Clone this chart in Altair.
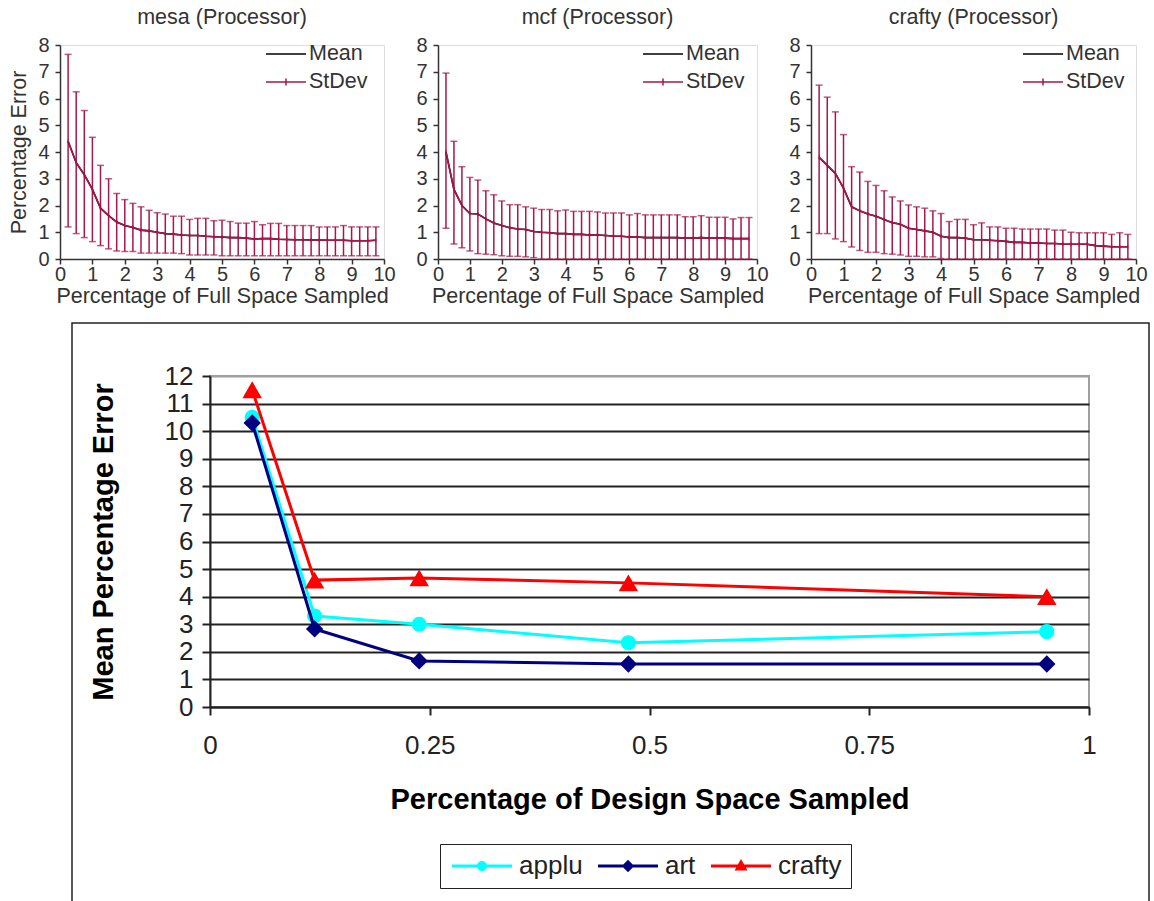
import altair as alt
import pandas as pd

FONT = "Liberation Sans"
CRIMSON = "#A8174A"
DARK = "#333333"

# ---------------- top panels ----------------
X_TOP = [0.25, 0.5, 0.75, 1.0, 1.25, 1.5, 1.75, 2.0, 2.25, 2.5, 2.75, 3.0, 3.25,
         3.5, 3.75, 4.0, 4.25, 4.5, 4.75, 5.0, 5.25, 5.5, 5.75, 6.0, 6.25, 6.5,
         6.75, 7.0, 7.25, 7.5, 7.75, 8.0, 8.25, 8.5, 8.75, 9.0, 9.25, 9.5, 9.75]

MESA_MEAN = [4.4, 3.6, 3.15, 2.6, 1.9, 1.62, 1.38, 1.25, 1.18, 1.08, 1.05, 1.0, 0.95,
             0.93, 0.9, 0.88, 0.88, 0.85, 0.83, 0.82, 0.8, 0.8, 0.78, 0.75, 0.76, 0.76,
             0.74, 0.73, 0.72, 0.72, 0.71, 0.71, 0.7, 0.7, 0.7, 0.68, 0.68, 0.68, 0.7]
MESA_LOW = [1.2, 0.95, 0.8, 0.65, 0.5, 0.38, 0.3, 0.28, 0.28, 0.22, 0.22, 0.22, 0.22,
            0.22, 0.2, 0.15, 0.15, 0.15, 0.15, 0.12, 0.12, 0.12, 0.12, 0.12, 0.12, 0.12,
            0.12, 0.12, 0.12, 0.12, 0.12, 0.12, 0.12, 0.12, 0.12, 0.12, 0.12, 0.12, 0.12]
MESA_HIGH = [7.65, 6.25, 5.55, 4.55, 3.5, 3.0, 2.45, 2.22, 2.08, 1.95, 1.82, 1.73, 1.68,
             1.6, 1.6, 1.48, 1.52, 1.52, 1.43, 1.45, 1.4, 1.34, 1.34, 1.4, 1.28, 1.33,
             1.33, 1.25, 1.25, 1.25, 1.25, 1.2, 1.2, 1.2, 1.25, 1.2, 1.2, 1.2, 1.2]

MCF_MEAN = [4.0, 2.6, 2.0, 1.7, 1.68, 1.5, 1.35, 1.25, 1.17, 1.12, 1.1, 1.03, 1.0,
            0.98, 0.95, 0.95, 0.92, 0.92, 0.9, 0.9, 0.88, 0.86, 0.85, 0.82, 0.82, 0.8,
            0.8, 0.8, 0.8, 0.8, 0.78, 0.78, 0.8, 0.78, 0.78, 0.78, 0.76, 0.76, 0.76]
MCF_LOW = [1.15, 0.56, 0.42, 0.3, 0.2, 0.18, 0.16, 0.12, 0.1, 0.1, 0.08, 0.05, 0.0,
           0.0, 0.0, 0.0, 0.0, 0.0, 0.0, 0.0, 0.0, 0.0, 0.0, 0.0, 0.0, 0.0,
           0.0, 0.0, 0.0, 0.0, 0.0, 0.0, 0.0, 0.0, 0.0, 0.0, 0.0, 0.0, 0.0]
MCF_HIGH = [6.95, 4.4, 3.45, 3.05, 2.95, 2.55, 2.4, 2.17, 2.03, 2.03, 1.95, 1.9, 1.85,
            1.85, 1.8, 1.83, 1.78, 1.78, 1.78, 1.76, 1.72, 1.72, 1.72, 1.65, 1.7, 1.65,
            1.65, 1.65, 1.65, 1.65, 1.58, 1.58, 1.62, 1.56, 1.56, 1.56, 1.5, 1.55, 1.55]

CRAFTY_MEAN = [3.8, 3.5, 3.2, 2.65, 1.95, 1.8, 1.68, 1.6, 1.48, 1.36, 1.3, 1.15, 1.1,
               1.05, 1.0, 0.85, 0.8, 0.8, 0.78, 0.72, 0.72, 0.7, 0.68, 0.66, 0.62, 0.62,
               0.6, 0.6, 0.58, 0.58, 0.56, 0.55, 0.55, 0.55, 0.5, 0.48, 0.46, 0.46, 0.46]
CRAFTY_LOW = [0.95, 0.95, 0.75, 0.65, 0.45, 0.32, 0.25, 0.25, 0.2, 0.18, 0.15, 0.1, 0.1,
              0.08, 0.08, 0.02, 0.0, 0.0, 0.0, 0.0, 0.0, 0.0, 0.0, 0.0, 0.0, 0.0,
              0.0, 0.0, 0.0, 0.0, 0.0, 0.0, 0.0, 0.0, 0.0, 0.0, 0.0, 0.0, 0.0]
CRAFTY_HIGH = [6.5, 6.05, 5.5, 4.65, 3.45, 3.25, 2.9, 2.75, 2.55, 2.32, 2.17, 2.02, 1.95,
               1.9, 1.8, 1.7, 1.4, 1.48, 1.48, 1.28, 1.35, 1.2, 1.2, 1.15, 1.15, 1.12,
               1.12, 1.12, 1.12, 1.08, 1.08, 1.0, 0.98, 0.98, 0.98, 0.98, 0.92, 0.98, 0.92]

PANEL_TITLES = ["mesa (Processor)", "mcf (Processor)", "crafty (Processor)"]
TOP_LEGEND = ["Mean", "StDev"]
TOP_LEGEND_COLORS = ["#000000", CRIMSON]
TOP_LEGEND_PATHS = ["M-1,0 L3,0", "M-1,0 L3,0 M1,-0.35 L1,0.35"]
X_TICKS_TOP = [0, 1, 2, 3, 4, 5, 6, 7, 8, 9, 10]
Y_TICKS_TOP = [0, 1, 2, 3, 4, 5, 6, 7, 8]

# ---------------- bottom chart ----------------
X_BOTTOM = [0.048, 0.119, 0.238, 0.476, 0.952]
APPLU = [10.5, 3.3, 3.0, 2.33, 2.73]
ART = [10.3, 2.83, 1.67, 1.56, 1.56]
CRAFTY = [11.5, 4.6, 4.68, 4.5, 4.0]
SERIES = ["applu", "art", "crafty"]
SERIES_COLORS = ["#00FFFF", "#000080", "#FF0000"]
SERIES_SHAPES = ["circle", "diamond", "triangle-up"]
SERIES_SIZES = [230, 300, 380]
X_TICKS_BOTTOM = [0, 0.25, 0.5, 0.75, 1]
Y_TICKS_BOTTOM = [0, 1, 2, 3, 4, 5, 6, 7, 8, 9, 10, 11, 12]

BAR = "M-1,-0.15 L5,-0.15 L5,0.15 L-1,0.15 Z "
LEGEND_PATHS = [
    BAR + "M2.5,0 A0.5,0.5 0 1,1 1.5,0 A0.5,0.5 0 1,1 2.5,0 Z",
    BAR + "M2,-0.62 L2.62,0 L2,0.62 L1.38,0 Z",
    BAR + "M2,-0.7 L2.65,0.45 L1.35,0.45 Z",
]


def top_panel(title, mean, low, high, width, ytitle, legend_x):
    df = pd.DataFrame({"x": X_TOP, "mean": mean, "low": low, "high": high})
    long = pd.concat([df.assign(series=TOP_LEGEND[0]), df.assign(series=TOP_LEGEND[1])])
    xs = alt.Scale(domain=[0, 10], nice=False)
    ys = alt.Scale(domain=[0, 8], nice=False)
    xax = alt.Axis(values=X_TICKS_TOP, title="Percentage of Full Space Sampled", grid=False,
                   tickSize=5, tickColor=DARK, tickWidth=1.5, domainColor=DARK, domainWidth=1.5,
                   labelFont=FONT, labelFontSize=20, labelColor=DARK, labelPadding=0,
                   labelFlush=False, labelOverlap=False, titleFont=FONT, titleFontSize=21.5,
                   titleFontWeight="normal", titleColor=DARK, titlePadding=1)
    yax = alt.Axis(values=Y_TICKS_TOP, title=ytitle, grid=False,
                   tickSize=5, tickColor=DARK, tickWidth=1.5, domainColor=DARK, domainWidth=1.5,
                   labelFont=FONT, labelFontSize=20, labelColor=DARK, labelPadding=6,
                   labelFlush=False, labelOverlap=False, titleFont=FONT, titleFontSize=21.5,
                   titleFontWeight="normal", titleColor=DARK, titlePadding=7)
    X = alt.X("x:Q", scale=xs, axis=xax)
    Ymean = alt.Y("mean:Q", scale=ys, axis=yax)
    base = alt.Chart(df)
    bars = base.mark_rule(color=CRIMSON, strokeWidth=1.5).encode(
        x=X, y=alt.Y("low:Q", scale=ys, axis=yax), y2="high:Q")
    cap_hi = base.mark_tick(orient="horizontal", size=7, thickness=1.5, color=CRIMSON).encode(
        x=X, y=alt.Y("high:Q", scale=ys, axis=yax))
    cap_lo = base.mark_tick(orient="horizontal", size=7, thickness=1.5, color=CRIMSON).encode(
        x=X, y=alt.Y("low:Q", scale=ys, axis=yax))
    mean_line = base.mark_line(strokeWidth=1.6, color=TOP_LEGEND_COLORS[0]).encode(x=X, y=Ymean)
    sd_line = base.mark_line(strokeWidth=1.6, color=TOP_LEGEND_COLORS[1]).encode(x=X, y=Ymean)
    marks = base.mark_tick(orient="vertical", size=4, thickness=1.3, color=CRIMSON).encode(
        x=X, y=Ymean)
    leg = alt.Legend(title=None, orient="none", legendX=legend_x, legendY=-2,
                     symbolSize=400, symbolOpacity=1, symbolStrokeWidth=1.5,
                     labelFont=FONT, labelFontSize=21.5, labelColor=DARK, rowPadding=6,
                     padding=0, labelOffset=22)
    legend_layer = alt.Chart(long).mark_point(filled=False, opacity=0).encode(
        x=X, y=Ymean,
        color=alt.Color("series:N", scale=alt.Scale(domain=TOP_LEGEND, range=TOP_LEGEND_COLORS),
                        legend=leg),
        shape=alt.Shape("series:N", scale=alt.Scale(domain=TOP_LEGEND, range=TOP_LEGEND_PATHS),
                        legend=leg))
    return alt.layer(bars, cap_hi, cap_lo, mean_line, sd_line, marks, legend_layer).properties(
        width=width, height=214,
        title=alt.TitleParams(text=title, font=FONT, fontSize=21.5, fontWeight="normal",
                              color=DARK, offset=7, anchor="middle"))


p1 = top_panel(PANEL_TITLES[0], MESA_MEAN, MESA_LOW, MESA_HIGH, 324, "Percentage Error", 205)
p2 = top_panel(PANEL_TITLES[1], MCF_MEAN, MCF_LOW, MCF_HIGH, 319, "", 204)
p3 = top_panel(PANEL_TITLES[2], CRAFTY_MEAN, CRAFTY_LOW, CRAFTY_HIGH, 325, "", 211)

# ---------------- bottom chart ----------------
dfb = pd.DataFrame({
    "x": X_BOTTOM * 3,
    "value": APPLU + ART + CRAFTY,
    "series": [SERIES[0]] * 5 + [SERIES[1]] * 5 + [SERIES[2]] * 5,
})
xbs = alt.Scale(domain=[0, 1], nice=False)
ybs = alt.Scale(domain=[0, 12], nice=False)
xb_axis = alt.Axis(values=X_TICKS_BOTTOM, labelExpr="'' + datum.value", grid=False,
                   tickSize=8, tickColor="#222222", tickWidth=2, domainColor="#222222",
                   domainWidth=2, labelFont=FONT, labelFontSize=26, labelColor="#222222",
                   labelPadding=17, labelFlush=False, labelOverlap=False,
                   title="Percentage of Design Space Sampled", titleFont=FONT,
                   titleFontSize=29, titleFontWeight="bold", titleColor="#000000",
                   titlePadding=27)
yb_axis = alt.Axis(values=Y_TICKS_BOTTOM, grid=True,
                   gridColor={"condition": {"test": "datum.value === 12", "value": "#a0a0a0"},
                              "value": "#222222"},
                   gridWidth=2, tickSize=8, tickColor="#222222", tickWidth=2,
                   domainColor="#222222", domainWidth=2, labelFont=FONT, labelFontSize=26,
                   labelColor="#222222", labelPadding=9, labelFlush=False, labelOverlap=False,
                   title="Mean Percentage Error", titleFont=FONT, titleFontSize=29,
                   titleFontWeight="bold", titleColor="#000000", titlePadding=46)
XB = alt.X("x:Q", scale=xbs, axis=xb_axis)
YB = alt.Y("value:Q", scale=ybs, axis=yb_axis)

frame = alt.Chart(pd.DataFrame({"frame": [0]})).mark_rect(
    fillOpacity=0, stroke="#222222", strokeWidth=1.5).encode(
    x=alt.value(-138), x2=alt.value(939), y=alt.value(-53), y2=alt.value(560))

layers = [frame]
for s, c, sh, sz in zip(SERIES, SERIES_COLORS, SERIES_SHAPES, SERIES_SIZES):
    sub = alt.Chart(dfb).transform_filter(alt.datum.series == s)
    layers.append(sub.mark_line(color=c, strokeWidth=3).encode(x=XB, y=YB))
    layers.append(sub.mark_point(shape=sh, filled=True, size=sz, color=c, opacity=1)
                  .encode(x=XB, y=YB))

leg_b = alt.Legend(title=None, orient="none", direction="horizontal", legendX=230, legendY=468,
                   symbolSize=400, symbolOpacity=1, symbolStrokeWidth=0, labelFont=FONT,
                   labelFontSize=26, labelColor="#222222", labelOffset=44, columnPadding=12,
                   padding=9, strokeColor="#222222", fillColor="#ffffff")
legend_layer_b = alt.Chart(dfb).mark_point(filled=True, opacity=0).encode(
    x=XB, y=YB,
    color=alt.Color("series:N", scale=alt.Scale(domain=SERIES, range=SERIES_COLORS), legend=leg_b),
    shape=alt.Shape("series:N", scale=alt.Scale(domain=SERIES, range=LEGEND_PATHS), legend=leg_b),
)
layers.append(legend_layer_b)

bottom = alt.layer(*layers).properties(
    width=879, height=331,
    view=alt.ViewBackground(stroke="#a0a0a0", strokeWidth=2))

spacer = alt.Chart(pd.DataFrame({"s": [0]})).mark_point(opacity=0).encode(
    x=alt.value(0), y=alt.value(0)).properties(
    width=140, height=1, view=alt.ViewBackground(strokeOpacity=0, fillOpacity=0))

top_row = alt.hconcat(p1, p2, p3, spacing=54, bounds="flush").resolve_scale(
    color="independent", shape="independent").resolve_legend(
    color="independent", shape="independent")
bottom_row = alt.hconcat(spacer, bottom, spacing=10, bounds="flush").resolve_scale(
    color="independent", shape="independent")

chart = alt.vconcat(top_row, bottom_row, spacing=331, bounds="flush").resolve_scale(
    color="independent", shape="independent").resolve_legend(
    color="independent", shape="independent").properties(
    padding={"left": 8, "top": 6, "right": 0, "bottom": 0}
).configure_view(strokeWidth=0).configure(background="#ffffff")

chart.save("out.html", embed_options={"renderer": "svg", "actions": False})
